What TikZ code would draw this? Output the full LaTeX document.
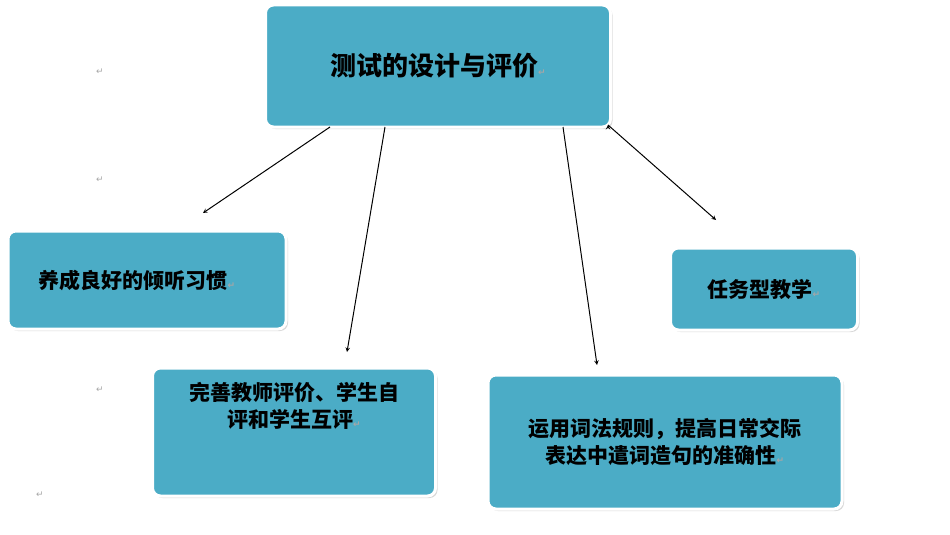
\documentclass[tikz,border=0pt]{standalone}
\usepackage{fontspec}
\newfontfamily\cjk{Noto Sans CJK SC}
\newfontfamily\symf{DejaVu Sans}
\usetikzlibrary{shadows}
\tikzset{
  box/.style={shape=rectangle, rounded corners=8pt, draw=white, line width=3pt,
    fill=boxblue, drop shadow={shadow xshift=2pt, shadow yshift=-2pt, fill=gray!60},
    font=\cjk\fontsize{21}{27}\selectfont\bfseries, align=center, inner sep=0pt},
  retmark/.style={font=\symf\fontsize{9}{9}\selectfont, text=gray!70}
}
\definecolor{boxblue}{HTML}{4BACC6}
\newcommand{\ret}{{\symf\fontsize{9}{9}\selectfont\textcolor{gray!70}{↵}}}
\begin{document}
\begin{tikzpicture}[x=1pt, y=-1pt]
\useasboundingbox (0,0) rectangle (950,535);
        % boxes
\node[box, minimum width=345pt, minimum height=122pt,
  font=\cjk\fontsize{26}{30}\selectfont\bfseries] at (438,66)
(top) {测试的设计与评价\ret};

\node[box, minimum width=278pt, minimum height=98pt] at (147,280)
(habit) {养成良好的倾听习惯\ret\hspace*{20pt}};

\node[box, minimum width=283pt, minimum height=128pt] at (294,432)
(eval) {\parbox[c][100pt][t]{240pt}{\centering 完善教师评价、学生自\\评和学生互评\ret}};

\node[box, minimum width=354pt, minimum height=134pt] at (665,442)
(rule) {运用词法规则，提高日常交际\\表达中遣词造句的准确性\ret};

\node[box, minimum width=187pt, minimum height=82pt] at (764,289)
(task) {任务型教学\ret};

% free ends of the arrows
\coordinate (a1) at (203,213);
\coordinate (a2) at (347,352);
\coordinate (a3) at (597,365);
\coordinate (a4) at (716,220);

\draw[-stealth, line width=1pt]
  (330,127) edge (a1)
  (385,127) edge (a2)
  (563,127) edge (a3)
  (608,125) edge (a4)
;

\node[retmark] at (100,72) (m1) {↵};
\node[retmark] at (100,180) (m2) {↵};
\node[retmark] at (100,390) (m3) {↵};
\node[retmark] at (40,495) (m4) {↵};
      \end{tikzpicture}
\end{document}
